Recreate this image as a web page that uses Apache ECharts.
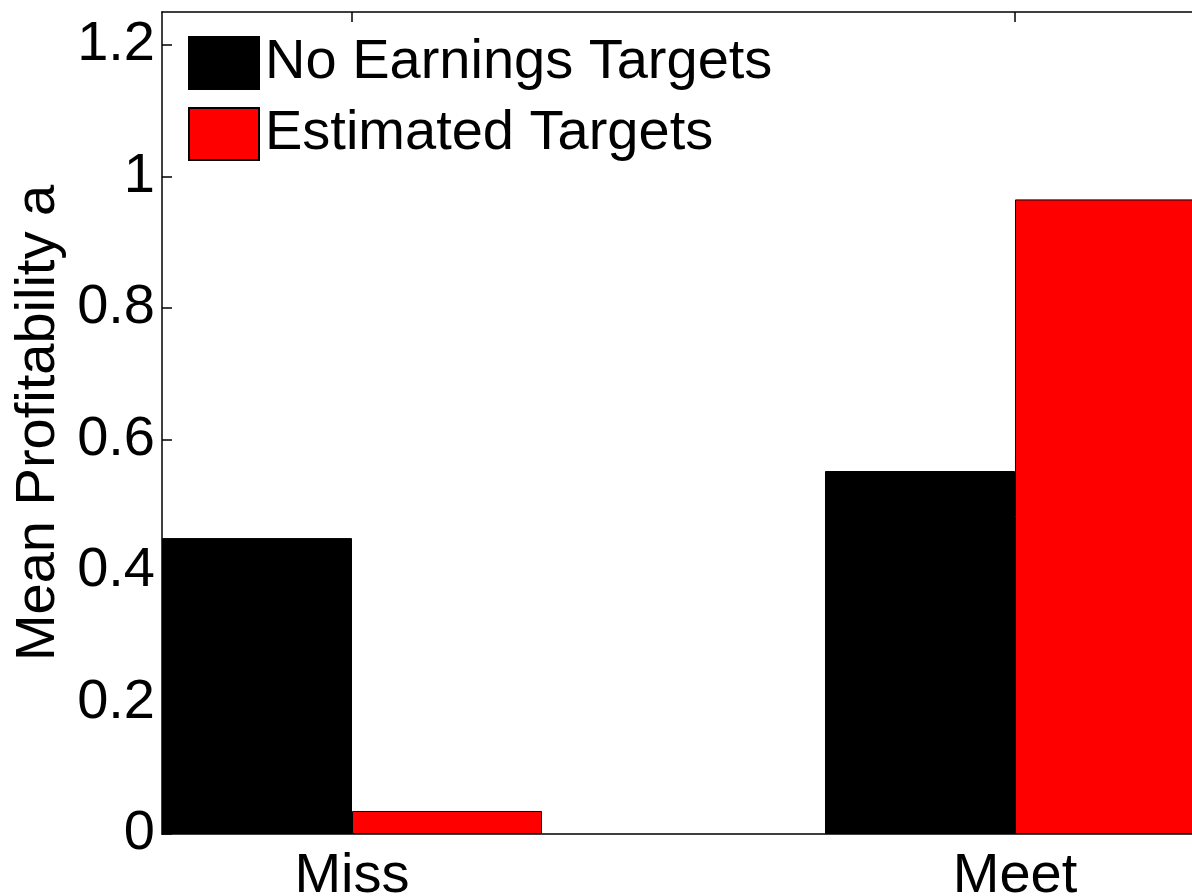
<!DOCTYPE html>
<html>
<head>
<meta charset="utf-8">
<script src="https://cdn.jsdelivr.net/npm/echarts@6/dist/echarts.min.js"></script>
<style>
html,body{margin:0;padding:0;background:#fff;}
#chart{width:1192px;height:896px;}
</style>
</head>
<body>
<div id="chart"></div>
<script>
const categories = ['Miss', 'Meet'];
const categoryPositions = [1, 2];
const seriesNames = ['No Earnings Targets', 'Estimated Targets'];
const noTargetsValues = [0.45, 0.552];
const estimatedValues = [0.035, 0.965];
const yTicks = [0, 0.2, 0.4, 0.6, 0.8, 1, 1.2];

const FONT = 'Liberation Sans, Arial, sans-serif';
const chart = echarts.init(document.getElementById('chart'), null, {renderer: 'canvas'});

function pairs(vals) { return vals.map((v, i) => [categoryPositions[i], v]); }

const option = {
  backgroundColor: '#fff',
  animation: false,
  textStyle: {fontFamily: FONT},
  grid: {left: 162, width: 1043, top: 12, height: 822, containLabel: false, outerBoundsMode: 'none'},
  legend: {
    left: 188, top: 35, orient: 'vertical', padding: 0,
    itemWidth: 70, itemHeight: 52, itemGap: 15,
    icon: 'rect',
    textStyle: {fontSize: 56, fontFamily: FONT, color: '#000', padding: [0, 0, 0, 1]},
    data: seriesNames
  },
  xAxis: [{
    type: 'value', position: 'bottom',
    min: 0.7134, max: 2.2866,
    axisLine: {show: true, lineStyle: {color: '#000', width: 1.5}},
    axisTick: {show: true, inside: true, length: 10, customValues: categoryPositions, lineStyle: {color: '#000', width: 1.5}},
    axisLabel: {show: true, customValues: categoryPositions, fontSize: 56, fontFamily: FONT, color: '#000', margin: 15,
      formatter: v => { const i = categoryPositions.indexOf(Math.round(v)); return i >= 0 ? categories[i] : ''; }},
    splitLine: {show: false}
  }, {
    type: 'value', position: 'top',
    min: 0.7134, max: 2.2866,
    axisLine: {show: true, onZero: false, lineStyle: {color: '#000', width: 1.5}},
    axisTick: {show: true, inside: true, length: 10, customValues: categoryPositions, lineStyle: {color: '#000', width: 1.5}},
    axisLabel: {show: false},
    splitLine: {show: false}
  }],
  yAxis: [{
    type: 'value', min: 0, max: 1.25, interval: 0.2,
    name: 'Mean Profitability a', nameLocation: 'middle', nameGap: 92,
    nameTextStyle: {fontSize: 56, fontFamily: FONT, color: '#000'},
    axisLine: {show: true, lineStyle: {color: '#000', width: 1.5}},
    axisTick: {show: true, inside: true, length: 10, customValues: yTicks, lineStyle: {color: '#000', width: 1.5}},
    axisLabel: {fontSize: 56, fontFamily: FONT, color: '#000', margin: 7, customValues: yTicks,
      formatter: v => String(Math.round(v * 10) / 10)},
    splitLine: {show: false}
  }, {
    type: 'value', position: 'right', min: 0, max: 1.25, interval: 0.2,
    axisLine: {show: true, lineStyle: {color: '#000', width: 1.5}},
    axisTick: {show: true, inside: true, length: 10, lineStyle: {color: '#000'}},
    axisLabel: {show: false}, splitLine: {show: false}
  }],
  series: [{
    name: seriesNames[0], type: 'bar', xAxisIndex: 0, yAxisIndex: 0,
    barWidth: 190, barGap: '0%',
    itemStyle: {color: '#000', borderColor: '#000', borderWidth: 1},
    data: pairs(noTargetsValues)
  }, {
    name: seriesNames[1], type: 'bar', xAxisIndex: 0, yAxisIndex: 0,
    barWidth: 190, barGap: '0%',
    itemStyle: {color: '#ff0000', borderColor: '#000', borderWidth: 1},
    data: pairs(estimatedValues)
  }]
};
chart.setOption(option);
</script>
</body>
</html>
